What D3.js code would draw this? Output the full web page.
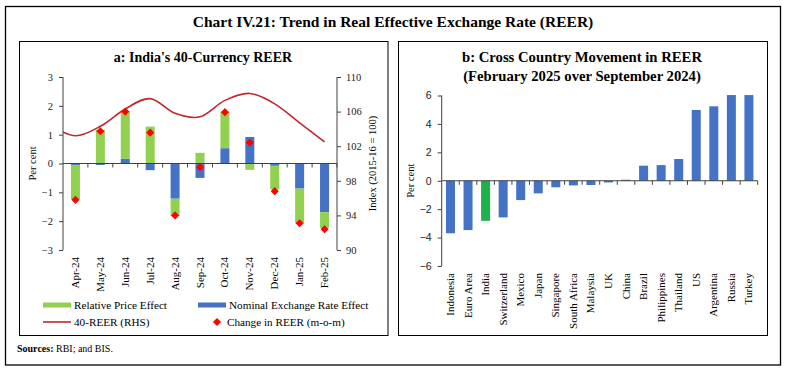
<!DOCTYPE html>
<html>
<head>
<meta charset="utf-8">
<script src="https://cdn.jsdelivr.net/npm/d3@7"></script>
<style>
  body { margin: 0; background: #fff; }
  svg { display: block; font-family: "Liberation Serif", serif; }
</style>
</head>
<body>
<svg id="chart" width="786" height="372"></svg>
<script>
// panel a: monthly decomposition of REER change
const months = ['Apr-24', 'May-24', 'Jun-24', 'Jul-24', 'Aug-24', 'Sep-24', 'Oct-24', 'Nov-24', 'Dec-24', 'Jan-25', 'Feb-25'];
const priceEffect = [-1.20, 1.17, 1.65, 1.28, -0.60, 0.37, 1.28, -0.22, -0.82, -1.20, -0.55];
const nominalEffect = [-0.05, -0.05, 0.17, -0.23, -1.22, -0.50, 0.53, 0.92, -0.08, -0.87, -1.69];
const reerChange = [-1.26, 1.12, 1.80, 1.07, -1.80, -0.13, 1.78, 0.72, -0.96, -2.07, -2.28];
// 40-REER index (RHS); the line starts one month earlier and is clipped by the plot
const reerMonths = ['Mar-24', ...months];
const reerIndex = [104.4, 103.2, 104.3, 106.3, 107.5, 105.8, 105.4, 107.3, 108.1, 106.9, 104.7, 102.5];
const leftTicks = [-3, -2, -1, 0, 1, 2, 3];
const rightTicks = [90, 94, 98, 102, 106, 110];

// panel b: cross-country change
const countries = ['Indonesia', 'Euro Area', 'India', 'Switzerland', 'Mexico', 'Japan', 'Singapore', 'South Africa', 'Malaysia', 'UK', 'China', 'Brazil', 'Philippines', 'Thailand', 'US', 'Argentina', 'Russia', 'Turkey'];
const countryChange = [-3.70, -3.47, -2.82, -2.58, -1.36, -0.89, -0.46, -0.33, -0.30, -0.12, 0.07, 1.06, 1.10, 1.53, 4.98, 5.24, 6.03, 6.03];
const bTicks = [-6, -4, -2, 0, 2, 4, 6];

const green = '#92D050', blue = '#4472C4', red = '#FF0000', lineRed = '#C0282E', indiaGreen = '#1EB04B';
const axisCol = '#404040';

const svg = d3.select('#chart');

// outer frame and main title
svg.append('rect').attr('x', 5.5).attr('y', 6.5).attr('width', 775).attr('height', 358.5)
	.attr('fill', 'none').attr('stroke', '#000').attr('stroke-width', 1.3);
svg.append('text').attr('x', 393).attr('y', 27).attr('text-anchor', 'middle')
	.style('font-size', '15.5px').style('font-weight', 'bold')
	.text('Chart IV.21: Trend in Real Effective Exchange Rate (REER)');

// panel frames
svg.append('rect').attr('x', 19.5).attr('y', 41.5).attr('width', 368.5).attr('height', 294)
	.attr('fill', 'none').attr('stroke', '#000');
svg.append('rect').attr('x', 398.5).attr('y', 41.5).attr('width', 369).attr('height', 294)
	.attr('fill', 'none').attr('stroke', '#000');

// ---------- panel a ----------
const a = { left: 63, right: 337, top: 77, bottom: 250 };
const gA = svg.append('g');

gA.append('text').attr('x', 203).attr('y', 62).attr('text-anchor', 'middle')
	.style('font-size', '14px').style('font-weight', 'bold')
	.text("a: India's 40-Currency REER");

const x = d3.scaleBand().domain(months).range([a.left, a.right]);
const yL = d3.scaleLinear().domain([-3, 3]).range([a.bottom, a.top]);
const yR = d3.scaleLinear().domain([90, 110]).range([a.bottom, a.top]);
const barW = 9;
const cx = (m) => x(m) + x.bandwidth() / 2;

// stacked bars: positives stack up from zero, negatives stack down
const stacks = months.map((m, i) => {
	let pos = 0, neg = 0;
	const parts = [];
	[['nominal', nominalEffect[i], blue], ['price', priceEffect[i], green]].forEach(([k, v, c]) => {
		if (v >= 0) { parts.push({ m, k, y0: pos, y1: pos + v, c }); pos += v; }
		else { parts.push({ m, k, y0: neg, y1: neg + v, c }); neg += v; }
	});
	return parts;
}).flat();

gA.append('g').selectAll('rect').data(stacks).join('rect')
	.attr('x', (d) => cx(d.m) - barW / 2)
	.attr('width', barW)
	.attr('y', (d) => yL(Math.max(d.y0, d.y1)))
	.attr('height', (d) => Math.abs(yL(d.y0) - yL(d.y1)))
	.attr('fill', (d) => d.c);

// left axis
const axL = gA.append('g').attr('transform', `translate(${a.left},0)`)
	.call(d3.axisLeft(yL).tickValues(leftTicks).tickSize(4).tickPadding(6).tickFormat(d3.format('d')));
// right axis
const axR = gA.append('g').attr('transform', `translate(${a.right},0)`)
	.call(d3.axisRight(yR).tickValues(rightTicks).tickSize(4).tickPadding(5));
[axL, axR].forEach((ax) => {
	ax.select('.domain').attr('stroke', axisCol).attr('d', `M0,${a.top}V${a.bottom}`);
	ax.selectAll('.tick line').attr('stroke', axisCol);
	ax.selectAll('.tick text').style('font-size', '10.5px').style('font-family', '"Liberation Serif", serif').attr('fill', '#222');
});

// category axis at zero with boundary ticks
const zeroA = yL(0);
const gxA = gA.append('g');
gxA.append('line').attr('x1', a.left).attr('x2', a.right).attr('y1', zeroA).attr('y2', zeroA).attr('stroke', axisCol);
gxA.selectAll('line.b').data(months).join('line').attr('class', 'b')
	.attr('x1', (m) => x(m) + x.bandwidth()).attr('x2', (m) => x(m) + x.bandwidth())
	.attr('y1', zeroA).attr('y2', zeroA + 4).attr('stroke', axisCol);
gxA.selectAll('text').data(months).join('text')
	.attr('transform', (m) => `translate(${cx(m) + 3.5},${a.bottom + 7}) rotate(-90)`)
	.attr('text-anchor', 'end').style('font-size', '11px').text((m) => m);

// REER line (RHS), clipped to the plot
gA.append('clipPath').attr('id', 'clipA').append('rect')
	.attr('x', a.left).attr('y', a.top - 5).attr('width', a.right - a.left).attr('height', a.bottom - a.top + 10);
const xl = d3.scalePoint().domain(reerMonths).range([cx(months[0]) - x.step(), cx(months[months.length - 1])]);
gA.append('path').datum(reerIndex.map((v, i) => [xl(reerMonths[i]), yR(v)]))
	.attr('clip-path', 'url(#clipA)')
	.attr('d', d3.line().curve(d3.curveCardinal.tension(0)))
	.attr('fill', 'none').attr('stroke', lineRed).attr('stroke-width', 1.6);

// change markers
const diamond = d3.symbol().type(d3.symbolDiamond2).size(42);
gA.append('g').selectAll('path').data(months).join('path')
	.attr('transform', (m, i) => `translate(${cx(m)},${yL(reerChange[i])})`)
	.attr('d', diamond).attr('fill', red);

// axis titles
gA.append('text').attr('transform', `translate(36,${(a.top + a.bottom) / 2}) rotate(-90)`)
	.attr('text-anchor', 'middle').style('font-size', '10.5px').text('Per cent');
gA.append('text').attr('transform', `translate(376,${(a.top + a.bottom) / 2}) rotate(-90)`)
	.attr('text-anchor', 'middle').style('font-size', '10.5px').text('Index (2015-16 = 100)');

// legend
const legend = [
	{ label: 'Relative Price Effect', type: 'rect', c: green, x: 43, y: 305 },
	{ label: 'Nominal Exchange Rate Effect', type: 'rect', c: blue, x: 198, y: 305 },
	{ label: '40-REER (RHS)', type: 'line', c: lineRed, x: 43, y: 322 },
	{ label: 'Change in REER (m-o-m)', type: 'diamond', c: red, x: 198, y: 322 }
];
const lg = gA.append('g').selectAll('g').data(legend).join('g')
	.attr('transform', (d) => `translate(${d.x},${d.y})`);
lg.filter((d) => d.type === 'rect').append('rect').attr('x', 0).attr('y', -2.5).attr('width', 28).attr('height', 5).attr('fill', (d) => d.c);
lg.filter((d) => d.type === 'line').append('line').attr('x1', 0).attr('x2', 28).attr('stroke', (d) => d.c).attr('stroke-width', 1.6);
lg.filter((d) => d.type === 'diamond').append('path').attr('transform', 'translate(19,0)').attr('d', diamond).attr('fill', (d) => d.c);
lg.append('text').attr('x', (d) => (d.type === 'diamond' ? 29 : 31)).attr('y', 4)
	.style('font-size', '11.2px').text((d) => d.label);

// ---------- panel b ----------
const b = { left: 441.7, right: 757.7, top: 95.5, bottom: 266 };
const gB = svg.append('g');

gB.append('text').attr('x', 582).attr('y', 62).attr('text-anchor', 'middle')
	.style('font-size', '14.7px').style('font-weight', 'bold').text('b: Cross Country Movement in REER');
gB.append('text').attr('x', 582).attr('y', 81).attr('text-anchor', 'middle')
	.style('font-size', '14.7px').style('font-weight', 'bold').text('(February 2025 over September 2024)');

const xb = d3.scaleBand().domain(countries).range([b.left, b.right]);
const yb = d3.scaleLinear().domain([-6, 6]).range([b.bottom, b.top]);
const barWb = 9;

gB.append('g').selectAll('rect').data(countries).join('rect')
	.attr('x', (c) => xb(c) + xb.bandwidth() / 2 - barWb / 2)
	.attr('width', barWb)
	.attr('y', (c, i) => yb(Math.max(0, countryChange[i])))
	.attr('height', (c, i) => Math.abs(yb(countryChange[i]) - yb(0)))
	.attr('fill', (c) => (c === 'India' ? indiaGreen : blue));

const axB = gB.append('g').attr('transform', `translate(${b.left},0)`)
	.call(d3.axisLeft(yb).tickValues(bTicks).tickSize(4).tickPadding(6));
axB.select('.domain').attr('stroke', axisCol).attr('d', `M0,${b.top}V${b.bottom}`);
axB.selectAll('.tick line').attr('stroke', axisCol);
axB.selectAll('.tick text').style('font-size', '10.5px').style('font-family', '"Liberation Sans", sans-serif').attr('fill', '#222');

const zeroB = yb(0);
gB.append('line').attr('x1', b.left).attr('x2', b.right).attr('y1', zeroB).attr('y2', zeroB).attr('stroke', axisCol);
gB.append('g').selectAll('line').data(countries).join('line')
	.attr('x1', (c) => xb(c) + xb.bandwidth()).attr('x2', (c) => xb(c) + xb.bandwidth())
	.attr('y1', zeroB).attr('y2', zeroB + 4).attr('stroke', axisCol);
gB.append('g').selectAll('text').data(countries).join('text')
	.attr('transform', (c) => `translate(${xb(c) + xb.bandwidth() / 2 + 3.5},${b.bottom + 7}) rotate(-90)`)
	.attr('text-anchor', 'end').style('font-size', '11px').text((c) => c);

gB.append('text').attr('transform', `translate(414,${(b.top + b.bottom) / 2}) rotate(-90)`)
	.attr('text-anchor', 'middle').style('font-size', '10.5px').text('Per cent');

// sources note
const src = svg.append('text').attr('x', 17).attr('y', 352).style('font-size', '10px');
src.append('tspan').style('font-weight', 'bold').text('Sources:');
src.append('tspan').text(' RBI; and BIS.');
</script>
</body>
</html>
